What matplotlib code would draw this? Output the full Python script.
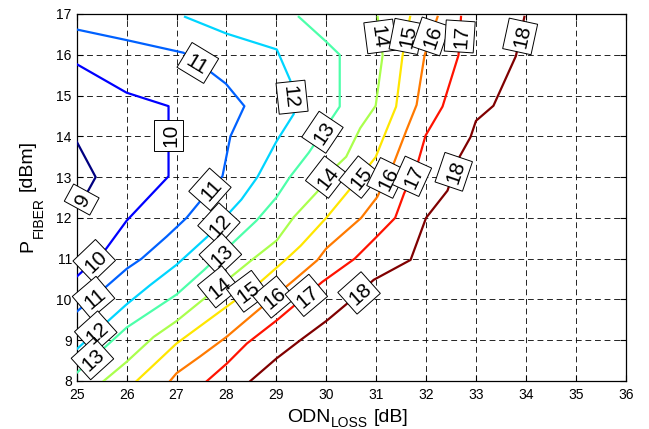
import numpy as np
import matplotlib
matplotlib.use('Agg')
import matplotlib.pyplot as plt
from matplotlib.patches import Polygon

# contour levels, each one (x = ODN loss, y = fiber power)
levels = [9, 10, 11, 12, 13, 14, 15, 16, 17, 18]

c9_x = [25.0, 25.38, 25.2, 25.0]
c9_y = [13.87, 13.0, 12.6, 12.3]

c10_x = [25.0, 26.0, 26.84, 26.84, 26.4, 26.0, 25.54, 25.0]
c10_y = [15.77, 15.07, 14.74, 13.02, 12.45, 11.93, 11.16, 10.56]

c11_x = [25.0, 26.0, 27.14, 27.68, 27.99, 28.36, 28.08, 27.92, 27.67, 27.2, 26.8, 26.3, 26.0, 25.54, 25.0]
c11_y = [16.62, 16.36, 16.05, 15.58, 15.29, 14.74, 14.0, 13.02, 12.7, 12.0, 11.54, 11.0, 10.75, 10.26, 9.7]

c12_x = [27.17, 28.0, 29.01, 29.28, 29.35, 29.0, 28.62, 28.3, 27.61, 27.0, 26.47, 26.0, 25.0]
c12_y = [16.93, 16.52, 16.13, 15.37, 14.55, 13.87, 13.0, 12.45, 11.53, 10.85, 10.35, 9.88, 8.78]

c13_x = [29.45, 30.0, 30.27, 30.27, 29.65, 29.27, 29.0, 28.6, 27.54, 27.0, 26.0, 25.0]
c13_y = [16.93, 16.32, 16.0, 14.73, 13.6, 13.0, 12.5, 11.93, 10.71, 10.12, 9.31, 8.2]

c14_x = [31.03, 31.13, 30.99, 30.68, 30.4, 30.05, 29.82, 29.35, 29.01, 28.5, 27.0, 26.54, 26.0, 25.54]
c14_y = [16.93, 15.99, 14.75, 14.2, 13.5, 13.09, 12.64, 12.02, 11.45, 10.96, 9.47, 9.08, 8.47, 8.0]

c15_x = [31.68, 31.53, 31.4, 31.21, 30.99, 30.62, 30.0, 29.49, 29.21, 28.68, 28.0, 27.0, 26.54, 26.2]
c15_y = [16.93, 15.99, 14.73, 14.16, 13.49, 12.92, 12.0, 11.32, 11.0, 10.43, 9.82, 8.92, 8.39, 8.0]

c16_x = [32.23, 31.97, 31.81, 31.61, 31.35, 31.02, 30.7, 30.0, 29.82, 29.35, 28.55, 28.0, 27.47, 27.0, 26.87]
c16_y = [16.93, 15.99, 14.77, 14.16, 13.33, 12.51, 12.0, 11.25, 10.96, 10.47, 9.65, 9.08, 8.6, 8.19, 8.0]

c17_x = [32.7, 32.65, 32.33, 31.99, 31.82, 31.56, 31.38, 30.98, 30.57, 29.92, 29.01, 28.41, 28.01, 27.61]
c17_y = [16.93, 15.99, 14.73, 14.02, 13.29, 12.6, 12.0, 11.5, 11.0, 10.43, 9.49, 8.92, 8.43, 8.0]

c18_x = [33.97, 33.8, 33.35, 33.0, 32.89, 32.63, 32.43, 32.0, 31.69, 30.95, 30.42, 30.02, 29.48, 29.0, 28.48]
c18_y = [16.93, 15.97, 14.75, 14.38, 13.98, 13.41, 12.67, 12.0, 10.97, 10.48, 9.9, 9.49, 9.0, 8.55, 8.0]

xs_all = [c9_x, c10_x, c11_x, c12_x, c13_x, c14_x, c15_x, c16_x, c17_x, c18_x]
ys_all = [c9_y, c10_y, c11_y, c12_y, c13_y, c14_y, c15_y, c16_y, c17_y, c18_y]

x_ticks = list(range(25, 37))
y_ticks = list(range(8, 18))

# where the inline labels sit: (level, height along the line)
label_spots = [
    (11, 15.8), (10, 14.02), (12, 14.96), (13, 14.1),
    (14, 16.45), (15, 16.45), (16, 16.45), (17, 16.45), (18, 16.45),
    (9, 12.45), (11, 12.7), (12, 11.85), (13, 11.1),
    (14, 13.0), (15, 13.0), (16, 12.98), (17, 13.02), (18, 13.13),
    (14, 10.31), (15, 10.2), (16, 10.06), (17, 10.1), (18, 10.16),
    (10, 10.95), (11, 10.05), (12, 9.2), (13, 8.55),
]

plt.rcParams['font.family'] = ['Liberation Sans', 'DejaVu Sans']

W, H = 649, 429
fig = plt.figure(figsize=(W / 100, H / 100), dpi=100)
ax = fig.add_axes([76.7 / W, 48 / H, 549 / W, 367 / H])
ax.set_xlim(25, 36)
ax.set_ylim(8, 17)
ax.set_xticks(x_ticks)
ax.set_yticks(y_ticks)
ax.grid(True, color='k', linestyle=(0, (7, 4.5)), linewidth=0.6)
ax.tick_params(direction='in', top=True, right=True, length=4, width=0.8, labelsize=10)
ax.tick_params(axis='x', pad=5)
ax.tick_params(axis='y', pad=3.5)
for s in ax.spines.values():
    s.set_linewidth(0.9)

cmap = plt.get_cmap('jet')
norm = plt.Normalize(min(levels), max(levels))

for lev, xs, ys in zip(levels, xs_all, ys_all):
    ax.plot(xs, ys, color=cmap(norm(lev)), lw=1.6, zorder=3)

# labels rotated along the line, sitting in a white box
lab_size = 15
digit_px = 0.556 * lab_size * 100 / 72
for lev, yl in label_spots:
    i = levels.index(lev)
    xs = np.array(xs_all[i])[::-1]
    ys = np.array(ys_all[i])[::-1]
    xl = np.interp(yl, ys, xs)
    ya, yb = yl - 0.3, yl + 0.3
    p0 = ax.transData.transform((np.interp(ya, ys, xs), ya))
    p1 = ax.transData.transform((np.interp(yb, ys, xs), yb))
    ang = np.degrees(np.arctan2(p1[1] - p0[1], p1[0] - p0[0]))
    if ang > 90:
        ang -= 180
    if ang <= -90:
        ang += 180

    c = ax.transData.transform((xl, yl))
    a = np.radians(ang)
    u = np.array([np.cos(a), np.sin(a)])
    v = np.array([-np.sin(a), np.cos(a)])
    half_l = (len(str(lev)) * digit_px + 8) / 2
    half_w = 14.5
    corners = [c - u * half_l - v * half_w, c + u * half_l - v * half_w,
               c + u * half_l + v * half_w, c - u * half_l + v * half_w]
    corners = ax.transData.inverted().transform(corners)
    ax.add_patch(Polygon(corners, closed=True, fc='white', ec='k', lw=0.7,
                         zorder=4, clip_on=False))
    ax.text(xl, yl, str(lev), rotation=ang, rotation_mode='anchor',
            ha='center', va='center_baseline', fontsize=lab_size, zorder=5)

# axis labels with a low subscript, built from pieces
renderer = fig.canvas.get_renderer()

def fpos(x, y):
    return x / W, (H - y) / H

x0 = 286.7
t = fig.text(*fpos(x0, 422), 'ODN', fontsize=14, va='baseline', ha='left')
x0 += t.get_window_extent(renderer).width + 1
t = fig.text(*fpos(x0, 427), 'LOSS', fontsize=10, va='baseline', ha='left')
x0 += t.get_window_extent(renderer).width + 6
fig.text(*fpos(x0, 422), '[dB]', fontsize=14, va='baseline', ha='left')

y0 = 252
t = fig.text(*fpos(32, y0), 'P', fontsize=14, rotation=90, rotation_mode='anchor',
             va='baseline', ha='left')
y0 -= t.get_window_extent(renderer).height + 1
t = fig.text(*fpos(42.5, y0), 'FIBER', fontsize=10, rotation=90, rotation_mode='anchor',
             va='baseline', ha='left')
y0 -= t.get_window_extent(renderer).height + 6
fig.text(*fpos(32, y0), '[dBm]', fontsize=14, rotation=90, rotation_mode='anchor',
         va='baseline', ha='left')

fig.savefig('out.png', dpi=100)
